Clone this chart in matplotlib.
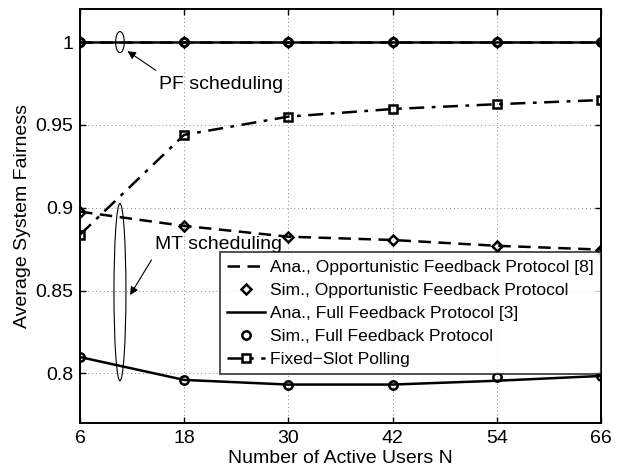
import matplotlib
matplotlib.use("Agg")
import matplotlib.pyplot as plt
from matplotlib.patches import Ellipse
from matplotlib.lines import Line2D

plt.rcParams['font.family'] = ['Liberation Sans', 'DejaVu Sans']

users = [6, 18, 30, 42, 54, 66]
# MT scheduling
opp_ana_mt = [0.8976, 0.889, 0.8825, 0.8805, 0.877, 0.8747]
opp_sim_mt = [0.8976, 0.889, 0.8825, 0.8805, 0.877, 0.8747]
full_ana_mt = [0.8098, 0.796, 0.7932, 0.7932, 0.7955, 0.7984]
full_sim_mt = [0.8098, 0.796, 0.7928, 0.7928, 0.7976, 0.7984]
polling = [0.8837, 0.944, 0.955, 0.9596, 0.9625, 0.965]
# PF scheduling
opp_ana_pf = [1.0, 1.0, 1.0, 1.0, 1.0, 1.0]
opp_sim_pf = [1.0, 1.0, 1.0, 1.0, 1.0, 1.0]
full_ana_pf = [1.0, 1.0, 1.0, 1.0, 1.0, 1.0]
full_sim_pf = [1.0, 1.0, 1.0, 1.0, 1.0, 1.0]

yticks = [0.8, 0.85, 0.9, 0.95, 1.0]
yticklabels = ['0.8', '0.85', '0.9', '0.95', '1']
legend_labels = ['Ana., Opportunistic Feedback Protocol [8]',
                 'Sim., Opportunistic Feedback Protocol',
                 'Ana., Full Feedback Protocol [3]',
                 'Sim., Full Feedback Protocol',
                 'Fixed\u2212Slot Polling']

fig = plt.figure(figsize=(6.25, 4.68), dpi=100)
ax = fig.add_axes([0.128, 0.0962, 0.8336, 0.8846])

fs = 14
lw = 1.8
mk = dict(markerfacecolor='none', markeredgecolor='black', markeredgewidth=1.8)

for ana, sim in [(full_ana_pf, full_sim_pf), (full_ana_mt, full_sim_mt)]:
    ax.plot(users, ana, '-', color='black', lw=lw, zorder=3)
    ax.plot(users, sim, 'o', ms=6, linestyle='none', zorder=4, **mk)
for ana, sim in [(opp_ana_pf, opp_sim_pf), (opp_ana_mt, opp_sim_mt)]:
    ax.plot(users, ana, '--', color='black', lw=lw, dashes=(5, 3), zorder=3)
    ax.plot(users, sim, 'D', ms=5.5, linestyle='none', zorder=4, **mk)
ax.plot(users, polling, '-.', color='black', lw=lw, marker='s', ms=5.5,
        dashes=(6, 3, 1.5, 3), zorder=3, **mk)

ax.set_xlim(6, 66)
ax.set_ylim(0.77, 1.02)
ax.set_xticks(users)
ax.set_yticks(yticks)
ax.set_yticklabels(yticklabels)
ax.tick_params(direction='in', labelsize=fs, length=4, width=1.0, top=True, right=True, pad=5)
ax.grid(True, linestyle=(0, (1, 3)), color='#888888', lw=0.7)
for s in ax.spines.values():
    s.set_linewidth(1.4)

ax.set_xlabel('Number of Active Users N', fontsize=fs, labelpad=2)
ax.set_ylabel('Average System Fairness', fontsize=fs, labelpad=3)

# annotations
ax.add_patch(Ellipse((10.6, 1.0), 1.0, 0.0127, fill=False, edgecolor='black', lw=0.8, zorder=5))
ax.add_patch(Ellipse((10.6, 0.849), 1.38, 0.107, fill=False, edgecolor='black', lw=0.8, zorder=5))
ax.annotate('', xy=(11.2, 0.9955), xytext=(15.0, 0.982),
            arrowprops=dict(arrowstyle='-|>', color='black', lw=0.8, mutation_scale=12))
ax.annotate('', xy=(11.6, 0.8458), xytext=(14.4, 0.8699),
            arrowprops=dict(arrowstyle='-|>', color='black', lw=0.8, mutation_scale=12))
ax.text(22.2, 0.9747, 'PF scheduling', fontsize=fs, ha='center', va='center')
ax.text(21.9, 0.8777, 'MT scheduling', fontsize=fs, ha='center', va='center')

handles = [
    Line2D([], [], color='black', lw=lw, linestyle='--', dashes=(5, 3)),
    Line2D([], [], color='black', marker='D', ms=5.5, linestyle='none', **mk),
    Line2D([], [], color='black', lw=lw, linestyle='-'),
    Line2D([], [], color='black', marker='o', ms=6, linestyle='none', **mk),
    Line2D([], [], color='black', lw=lw, linestyle='-.', dashes=(6, 3, 1.5, 3), marker='s', ms=5.5, **mk),
]
leg = ax.legend(handles, legend_labels, loc='lower right', bbox_to_anchor=(1.0, 0.118),
                borderaxespad=0, fontsize=12.6, frameon=True, fancybox=False,
                handlelength=2.2, handletextpad=0.3, labelspacing=0.45, borderpad=0.4)
leg.get_frame().set_edgecolor('black')
leg.get_frame().set_linewidth(1.2)
leg.set_zorder(10)

fig.savefig('out.png', dpi=100)
